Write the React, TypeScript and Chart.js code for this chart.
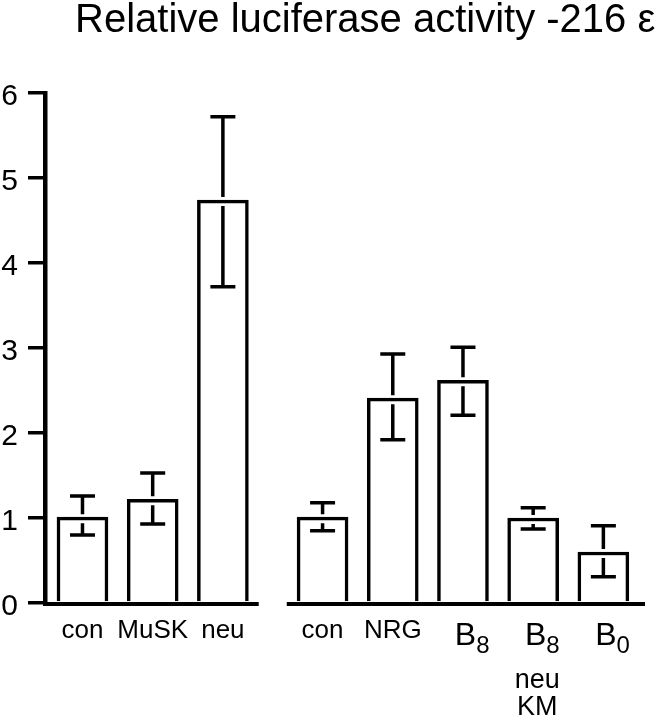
import React, { useEffect, useRef } from "react";
import { Chart, registerables } from "chart.js";

Chart.register(...registerables);

// ---- data ----
const labelMain = ["con", "MuSK", "neu", "con", "NRG", "B", "B", "B"];
const labelSub = ["", "", "", "", "", "8", "8", "0"];
const labelExtra: string[][] = [[], [], [], [], [], [], ["neu", "KM"], []];
const groupOf = [0, 0, 0, 1, 1, 1, 1, 1];
const means = [1.01, 1.22, 4.74, 1.01, 2.41, 2.62, 1.0, 0.6];
const upper = [1.26, 1.53, 5.72, 1.18, 2.93, 3.01, 1.12, 0.91];
const lower = [0.8, 0.93, 3.72, 0.85, 1.92, 2.21, 0.87, 0.31];
const yTickValues = [0, 1, 2, 3, 4, 5, 6];
const titleText = "Relative luciferase activity -216 \u03b5";

const GROUP_GAP = 0.42;
const FONT = "'Liberation Sans', Arial, Helvetica, sans-serif";

const positions = means.map((_, i) => i + groupOf[i] * GROUP_GAP);

const axisPlugin = {
  id: "brokenAxis",
  afterDatasetsDraw(chart: any) {
    const { ctx, scales } = chart;
    const xs = scales.x;
    const ys = scales.y;
    const y0 = ys.getPixelForValue(0);
    const lastLeft = groupOf.lastIndexOf(0);
    const firstRight = groupOf.indexOf(1);
    const leftEnd = xs.getPixelForValue(positions[lastLeft] + 0.51);
    const rightStart = xs.getPixelForValue(positions[firstRight] - 0.51);
    ctx.save();
    ctx.strokeStyle = "#000";
    ctx.lineWidth = 4;
    ctx.beginPath();
    ctx.moveTo(chart.chartArea.left - 2, y0 + 1);
    ctx.lineTo(leftEnd, y0 + 1);
    ctx.moveTo(rightStart, y0 + 1);
    ctx.lineTo(chart.chartArea.right, y0 + 1);
    ctx.stroke();
    ctx.restore();
  },
};

const errorPlugin = {
  id: "errorBars",
  afterDatasetsDraw(chart: any) {
    const { ctx } = chart;
    const ys = chart.scales.y;
    const meta = chart.getDatasetMeta(0);
    ctx.save();
    ctx.strokeStyle = "#000";
    ctx.lineWidth = 3.5;
    meta.data.forEach((bar: any, i: number) => {
      const x = bar.x;
      const top = bar.y;
      const hi = ys.getPixelForValue(upper[i]);
      const lo = ys.getPixelForValue(lower[i]);
      const half = 12.5;
      ctx.beginPath();
      ctx.moveTo(x, hi);
      ctx.lineTo(x, top - 3);
      ctx.moveTo(x - half, hi);
      ctx.lineTo(x + half, hi);
      ctx.moveTo(x, top + 6);
      ctx.lineTo(x, lo);
      ctx.moveTo(x - half, lo);
      ctx.lineTo(x + half, lo);
      ctx.stroke();
    });
    ctx.restore();
  },
};

const textPlugin = {
  id: "texts",
  afterDraw(chart: any) {
    const { ctx } = chart;
    const xs = chart.scales.x;
    ctx.save();
    ctx.fillStyle = "#000";
    ctx.textBaseline = "alphabetic";
    // title
    ctx.font = `40px ${FONT}`;
    ctx.textAlign = "left";
    ctx.fillText(titleText, 75, 32);
    // x labels
    positions.forEach((p, i) => {
      const cx = xs.getPixelForValue(p);
      if (labelSub[i]) {
        ctx.font = `32px ${FONT}`;
        const w = ctx.measureText(labelMain[i]).width;
        ctx.textAlign = "left";
        const bx = cx + 2.5 - w / 2;
        ctx.fillText(labelMain[i], bx, 645);
        ctx.font = `24px ${FONT}`;
        ctx.fillText(labelSub[i], bx + w, 653);
      } else {
        ctx.font = `26px ${FONT}`;
        ctx.textAlign = "center";
        ctx.fillText(labelMain[i], cx, 638);
      }
      labelExtra[i].forEach((t, k) => {
        ctx.font = `27px ${FONT}`;
        ctx.textAlign = "center";
        ctx.fillText(t, cx + 4, 688 + k * 27);
      });
    });
    ctx.restore();
  },
};

export default function App() {
  const ref = useRef<HTMLCanvasElement | null>(null);
  useEffect(() => {
    if (!ref.current) return;
    const chart = new Chart(ref.current, {
      type: "bar",
      data: {
        datasets: [
          {
            data: positions.map((x, i) => ({ x, y: means[i] })),
            backgroundColor: "#fff",
            borderColor: "#000",
            borderWidth: 3.5,
            borderSkipped: "start",
            barThickness: 51,
          },
        ],
      },
      options: {
        animation: false,
        responsive: false,
        devicePixelRatio: 1,
        layout: { padding: { top: 93, bottom: 117, right: 19, left: 0 } },
        plugins: { legend: { display: false }, title: { display: false }, tooltip: { enabled: false } },
        scales: {
          x: {
            type: "linear",
            min: -0.534,
            max: 8.013,
            offset: false,
            grid: { offset: false },
            display: false,
          },
          y: {
            min: 0,
            max: 6,
            afterFit: (s: any) => {
              s.width = 45;
            },
            afterBuildTicks: (s: any) => {
              s.ticks = yTickValues.map((v) => ({ value: v }));
            },
            ticks: {
              color: "#000",
              padding: 10,
              labelOffset: 4,
              font: { family: FONT, size: 30 },
            },
            grid: {
              drawOnChartArea: false,
              drawTicks: true,
              tickLength: 17,
              lineWidth: 3.5,
              color: "#000",
            },
            border: { display: true, width: 4.5, color: "#000" },
          },
        },
      },
      plugins: [axisPlugin, errorPlugin, textPlugin],
    });
    return () => chart.destroy();
  }, []);
  return (
    <div style={{ position: "absolute", left: 0, top: 0, width: 664, height: 720, background: "#fff" }}>
      <canvas ref={ref} width={664} height={720} />
    </div>
  );
}
